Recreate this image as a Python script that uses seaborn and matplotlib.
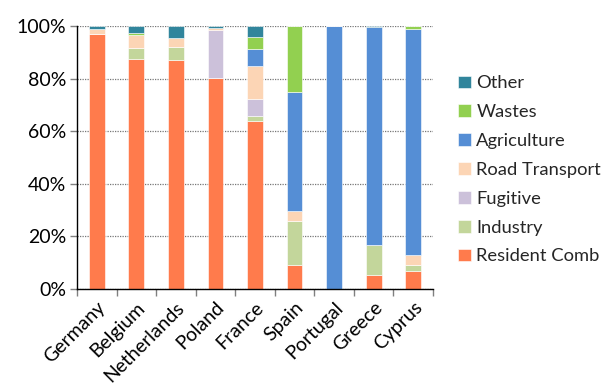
import matplotlib
matplotlib.use("Agg")
import matplotlib.pyplot as plt
from matplotlib.ticker import PercentFormatter, FixedLocator
import pandas as pd
import seaborn as sns

countries = ["Germany", "Belgium", "Netherlands", "Poland", "France",
             "Spain", "Portugal", "Greece", "Cyprus"]

# Sector shares (%) per country
resident_comb = [97.0, 87.5, 87.2, 80.2, 63.9, 9.0, 0.0, 5.3, 7.0]
industry = [0.0, 4.3, 4.8, 0.0, 2.0, 16.9, 0.0, 11.3, 2.2]
fugitive = [0.0, 0.0, 0.0, 18.3, 6.2, 0.0, 0.0, 0.0, 0.0]
road_transport = [2.0, 4.8, 3.6, 0.7, 12.8, 3.9, 0.0, 0.0, 3.6]
agriculture = [0.0, 0.0, 0.0, 0.0, 6.2, 45.2, 100.0, 83.1, 86.2]
wastes = [0.0, 0.6, 0.0, 0.0, 4.9, 25.0, 0.0, 0.0, 1.0]
other = [1.0, 2.8, 4.4, 0.8, 4.0, 0.0, 0.0, 0.3, 0.0]

sectors = ["Other", "Wastes", "Agriculture", "Road Transport",
           "Fugitive", "Industry", "Resident Comb"]
series = [other, wastes, agriculture, road_transport, fugitive, industry,
          resident_comb]
colors = ["#31859C", "#92D050", "#558ED5", "#FCD5B5", "#CCC1DA",
          "#C3D69B", "#FF7B4C"]

rows = []
for name, vals in zip(sectors, series):
    for c, v in zip(countries, vals):
        rows.append({"country": c, "sector": name, "share": v})
df = pd.DataFrame(rows)

sns.set_theme(style="white")
plt.rcParams["font.family"] = ["Lato", "DejaVu Sans"]

FS = 14
LEG_FS = 13.2

fig = plt.figure(figsize=(6.05, 3.89), dpi=100)
ax = fig.add_axes([0.1273, 0.2571, 0.5884, 0.6761])

# First hue level is drawn on top of the stack, last at the bottom
sns.histplot(data=df, x="country", weights="share", hue="sector",
             hue_order=sectors, palette=colors, multiple="stack",
             discrete=True, shrink=0.4, alpha=1, linewidth=0.4,
             edgecolor="white", ax=ax)

ax.set_ylim(0, 100)
ax.set_xlim(-0.5, len(countries) - 0.5)
ax.set_yticks([0, 20, 40, 60, 80, 100])
ax.yaxis.set_major_formatter(PercentFormatter(100, decimals=0))
ax.set_xlabel("")
ax.set_ylabel("")

ax.set_axisbelow(True)
ax.yaxis.grid(True, color="#777777", linestyle=(0, (1, 1)), linewidth=0.9)
ax.xaxis.grid(False)

for side in ("top", "right"):
    ax.spines[side].set_visible(False)
for side in ("left", "bottom"):
    ax.spines[side].set_color("black")
    ax.spines[side].set_linewidth(1.0)

ax.set_xticks(range(len(countries)))
ax.set_xticklabels(countries, rotation=45, ha="right",
                   rotation_mode="anchor", fontsize=FS, color="black")
ax.tick_params(axis="x", which="major", length=0, pad=7)
ax.xaxis.set_minor_locator(FixedLocator([i - 0.5 for i in range(len(countries) + 1)]))
ax.tick_params(axis="x", which="minor", bottom=True, length=5, width=1,
               color="#808080")
ax.tick_params(axis="y", which="major", left=True, length=5, width=1,
               color="#808080", labelsize=FS, labelcolor="black", pad=3)

sns.move_legend(ax, "center left", bbox_to_anchor=(0.745, 0.563),
                bbox_transform=fig.transFigure, title=None, frameon=False,
                fontsize=LEG_FS, handlelength=0.7, handleheight=0.7,
                handletextpad=0.3, labelspacing=0.7, borderaxespad=0)

fig.savefig("out.png", dpi=100)
